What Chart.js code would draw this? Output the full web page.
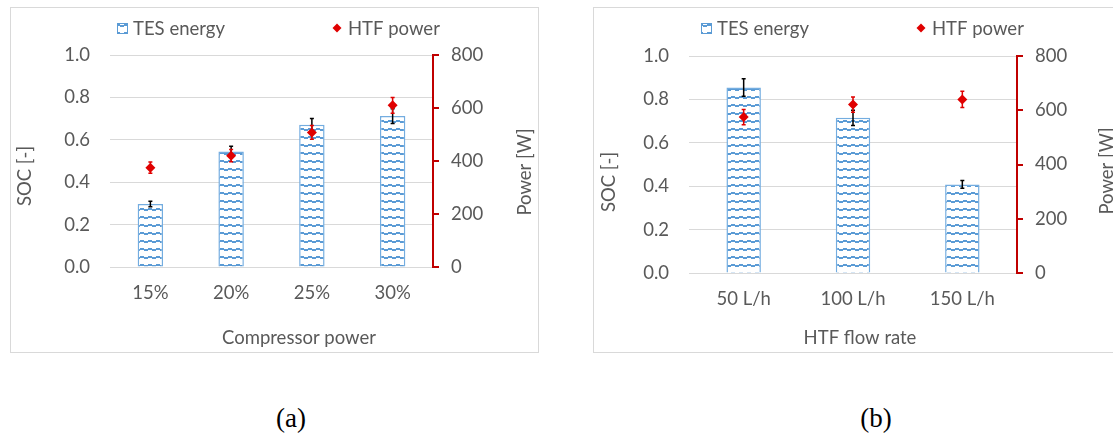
<!DOCTYPE html>
<html lang="en">
<head>
<meta charset="UTF-8">
<title>TES energy and HTF power</title>
<script src="https://cdn.jsdelivr.net/npm/chart.js"></script>
<style>
  html, body { margin: 0; padding: 0; background: #fff; width: 1113px; height: 434px; overflow: hidden; }
  .box { position: absolute; top: 7px; height: 344px; border: 1px solid #d9d9d9; background: #fff; }
  #boxA { left: 10px; width: 527px; }
  #boxB { left: 593px; width: 540px; }
  .box canvas { display: block; }
  .cap { position: absolute; top: 403px; width: 60px; text-align: center;
         font-family: "Liberation Serif", serif; font-size: 27px; color: #000; }
</style>
</head>
<body>
<div class="box" id="boxA"><canvas id="chartA" width="527" height="344"></canvas></div>
<div class="box" id="boxB"><canvas id="chartB" width="540" height="344"></canvas></div>
<div class="cap" style="left:261px">(a)</div>
<div class="cap" style="left:846px">(b)</div>

<script>
  // (a) compressor power
  const compLabels = ['15%', '20%', '25%', '30%'];
  const compSoc = [0.297, 0.545, 0.671, 0.712];
  const compSocErr = [0.013, 0.025, 0.03, 0.035];
  const compPower = [375, 420, 508, 610];
  const compPowerErr = [21, 23, 26, 30];

  // (b) HTF flow rate
  const flowLabels = ['50 L/h', '100 L/h', '150 L/h'];
  const flowSoc = [0.855, 0.715, 0.408];
  const flowSocErr = [0.04, 0.035, 0.018];
  const flowPower = [575, 621, 640];
  const flowPowerErr = [28, 28, 30];

  // axis ranges
  const socTicks = [0, 0.2, 0.4, 0.6, 0.8, 1.0];
  const powerTicks = [0, 200, 400, 600, 800];

  const FONT = 'Lato';
  const GREY = '#595959';
  const BLUE = '#5b9bd5';
  const RED = '#e00000';

  // Excel-like "wave" fill: short dashes stepping up and down
  function wavePattern() {
    const c = document.createElement('canvas');
    c.width = 8; c.height = 8;
    const g = c.getContext('2d');
    g.fillStyle = '#fff';
    g.fillRect(0, 0, 8, 8);
    g.fillStyle = BLUE;
    g.fillRect(1, 0, 4, 2);
    g.fillRect(5, 1, 3, 2);
    g.fillRect(0, 1, 1, 2);
    return g.createPattern(c, 'repeat');
  }

  // error bars drawn right after their own dataset
  const errorBars = {
    id: 'errorBars',
    afterDatasetDraw(chart, args) {
      const ds = chart.data.datasets[args.index];
      if (!ds.errors) return;
      const yScale = chart.scales[args.meta.yAxisID];
      const ctx = chart.ctx;
      ctx.save();
      ctx.strokeStyle = ds.errorColor;
      ctx.lineWidth = 1.5;
      args.meta.data.forEach((el, i) => {
        const v = ds.data[i], e = ds.errors[i];
        const x = el.x;
        const y1 = yScale.getPixelForValue(v + e);
        const y2 = yScale.getPixelForValue(v - e);
        ctx.beginPath();
        ctx.moveTo(x, y1); ctx.lineTo(x, y2);
        ctx.moveTo(x - 2, y1); ctx.lineTo(x + 2, y1);
        ctx.moveTo(x - 2, y2); ctx.lineTo(x + 2, y2);
        ctx.stroke();
      });
      ctx.restore();
    }
  };

  // legend + axis titles placed like the Excel original
  const decor = {
    id: 'decor',
    afterDraw(chart, args, o) {
      const ctx = chart.ctx;
      const dsBar = chart.data.datasets[0];
      const dsPt = chart.data.datasets[1];
      ctx.save();
      ctx.font = '18.5px ' + FONT;
      ctx.fillStyle = GREY;
      ctx.textBaseline = 'middle';

      // legend
      const ly = o.legendY;
      ctx.fillStyle = dsBar.backgroundColor;
      ctx.fillRect(o.barX, ly - 5, 11, 11);
      ctx.strokeStyle = BLUE;
      ctx.lineWidth = 1;
      ctx.strokeRect(o.barX + 0.5, ly - 4.5, 10, 10);
      ctx.fillStyle = GREY;
      ctx.textAlign = 'left';
      ctx.fillText(dsBar.label, o.barX + 16, ly + 1);

      ctx.fillStyle = dsPt.pointBackgroundColor;
      ctx.beginPath();
      ctx.moveTo(o.ptX, ly - 4.5);
      ctx.lineTo(o.ptX + 4.5, ly);
      ctx.lineTo(o.ptX, ly + 4.5);
      ctx.lineTo(o.ptX - 4.5, ly);
      ctx.closePath();
      ctx.fill();
      ctx.fillStyle = GREY;
      ctx.fillText(dsPt.label, o.ptX + 11, ly + 1);

      // axis titles
      ctx.textAlign = 'center';
      o.titles.forEach(t => {
        ctx.save();
        ctx.translate(t.x, t.y);
        ctx.rotate(t.rot || 0);
        ctx.fillText(t.text, 0, 0);
        ctx.restore();
      });
      ctx.restore();
    }
  };

  function makeChart(id, labels, soc, socErr, power, powerErr, L) {
    const ctx = document.getElementById(id).getContext('2d');
    return new Chart(ctx, {
      type: 'bar',
      data: {
        labels: labels,
        datasets: [{
          type: 'bar',
          label: 'TES energy',
          data: soc,
          errors: socErr,
          errorColor: '#000',
          yAxisID: 'y',
          backgroundColor: wavePattern(),
          borderColor: '#74ade0',
          borderWidth: 1.5,
          categoryPercentage: 1,
          barPercentage: 0.315,
          order: 2
        }, {
          type: 'line',
          label: 'HTF power',
          data: power,
          errors: powerErr,
          errorColor: RED,
          yAxisID: 'y1',
          showLine: false,
          pointStyle: 'rectRot',
          pointRadius: 5,
          pointBorderWidth: 0,
          pointBackgroundColor: RED,
          pointBorderColor: RED,
          order: 1
        }]
      },
      options: {
        responsive: false,
        animation: false,
        layout: { padding: { top: L.top, left: 0, right: 0, bottom: 0 } },
        plugins: {
          legend: { display: false },
          tooltip: { enabled: false },
          decor: L.decor
        },
        scales: {
          x: {
            grid: { display: false },
            border: { color: '#d9d9d9' },
            ticks: { color: GREY, font: { family: FONT, size: 18.5 }, padding: 7, maxRotation: 0 },
            afterFit: s => { s.height = L.xHeight; }
          },
          y: {
            position: 'left',
            min: socTicks[0],
            max: socTicks[socTicks.length - 1],
            grid: { color: '#d9d9d9', drawTicks: false },
            border: { display: false },
            ticks: {
              stepSize: socTicks[1] - socTicks[0],
              color: GREY, font: { family: FONT, size: 18.5 }, padding: 20,
              callback: v => v.toFixed(1)
            },
            afterFit: s => { s.width = L.yWidth; }
          },
          y1: {
            position: 'right',
            min: powerTicks[0],
            max: powerTicks[powerTicks.length - 1],
            grid: { drawOnChartArea: false, color: '#c00000', lineWidth: 2, tickLength: 6 },
            border: { color: '#c00000', width: 2 },
            ticks: {
              stepSize: powerTicks[1] - powerTicks[0],
              color: GREY, font: { family: FONT, size: 18.5 }, padding: 12
            },
            afterFit: s => { s.width = L.y1Width; }
          }
        }
      },
      plugins: [errorBars, decor]
    });
  }

  makeChart('chartA', compLabels, compSoc, compSocErr, compPower, compPowerErr, {
    top: 47, xHeight: 85, yWidth: 99, y1Width: 105,
    decor: {
      legendY: 20, barX: 106, ptX: 326,
      titles: [
        { text: 'SOC [-]', x: 14, y: 168, rot: -Math.PI / 2 },
        { text: 'Power [W]', x: 514, y: 164, rot: -Math.PI / 2 },
        { text: 'Compressor power', x: 288, y: 330 }
      ]
    }
  });

  makeChart('chartB', flowLabels, flowSoc, flowSocErr, flowPower, flowPowerErr, {
    top: 48, xHeight: 79, yWidth: 95, y1Width: 117,
    decor: {
      legendY: 20, barX: 107, ptX: 327,
      titles: [
        { text: 'SOC [-]', x: 15, y: 174, rot: -Math.PI / 2 },
        { text: 'Power [W]', x: 513, y: 163, rot: -Math.PI / 2 },
        { text: 'HTF flow rate', x: 266, y: 330 }
      ]
    }
  });
</script>
</body>
</html>
